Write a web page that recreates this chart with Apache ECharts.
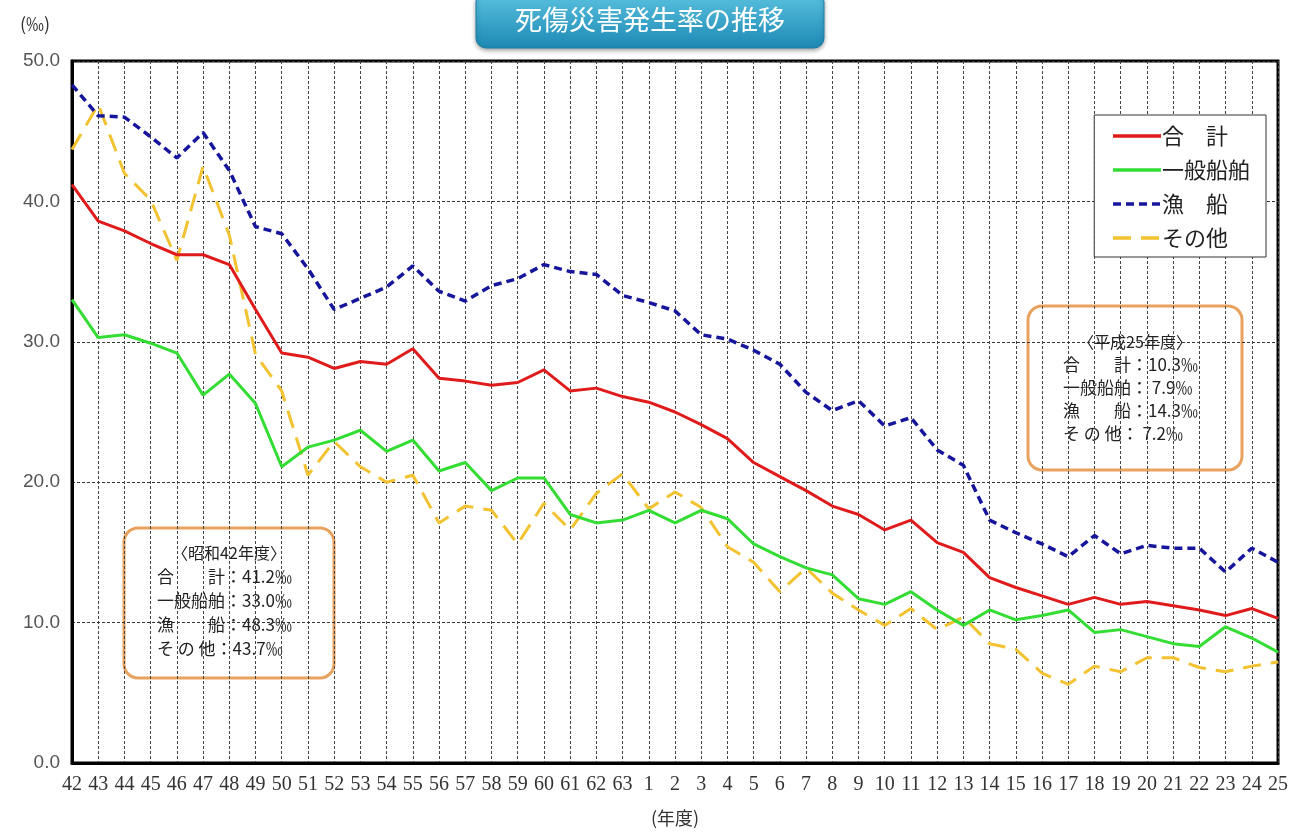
<!DOCTYPE html>
<html>
<head>
<meta charset="utf-8">
<script src="https://cdn.jsdelivr.net/npm/echarts@6/dist/echarts.min.js"></script>
<style>
  html, body { margin: 0; padding: 0; background: #fff; }
  #chart { width: 1291px; height: 832px; }
</style>
</head>
<body>
<div id="chart"></div>
<script>
// 年度 (昭和42〜63, 平成1〜25)
const years = ['42','43','44','45','46','47','48','49','50','51','52','53','54','55','56','57','58','59','60','61','62','63',
  '1','2','3','4','5','6','7','8','9','10','11','12','13','14','15','16','17','18','19','20','21','22','23','24','25']

// 合計
const total = [41.2,38.6,37.9,37.0,36.2,36.2,35.5,32.3,29.2,28.9,28.1,28.6,28.4,29.5,27.4,27.2,26.9,27.1,28.0,26.5,26.7,26.1,
  25.7,25.0,24.1,23.1,21.4,20.4,19.4,18.3,17.7,16.6,17.3,15.7,15.0,13.2,12.5,11.9,11.3,11.8,11.3,11.5,11.2,10.9,10.5,11.0,10.3]
// 一般船舶
const general = [33.0,30.3,30.5,29.9,29.2,26.2,27.7,25.6,21.1,22.5,23.0,23.7,22.2,23.0,20.8,21.4,19.4,20.3,20.3,17.7,17.1,17.3,
  18.0,17.1,18.0,17.4,15.6,14.7,13.9,13.4,11.7,11.3,12.2,10.9,9.8,10.9,10.2,10.5,10.9,9.3,9.5,9.0,8.5,8.3,9.7,8.9,7.9]
// 漁船
const fishing = [48.3,46.1,46.0,44.6,43.1,44.9,42.2,38.2,37.7,35.2,32.3,33.1,33.9,35.4,33.6,32.9,34.0,34.5,35.5,35.0,34.8,33.3,
  32.8,32.2,30.5,30.2,29.4,28.4,26.4,25.1,25.8,24.0,24.6,22.3,21.2,17.3,16.4,15.6,14.7,16.2,14.9,15.5,15.3,15.3,13.6,15.3,14.3]
// その他
const others = [43.7,46.9,42.0,40.1,35.8,42.5,37.6,29.1,26.5,20.5,22.9,21.1,20.0,20.5,17.1,18.3,18.0,15.6,18.5,16.6,19.2,20.6,
  18.1,19.3,18.2,15.4,14.3,12.2,13.9,12.1,10.9,9.8,11.0,9.5,10.4,8.5,8.1,6.4,5.6,6.9,6.5,7.5,7.5,6.8,6.5,6.9,7.2]

const yTicks = [0, 10, 20, 30, 40, 50]

const boxFirst = ['〈昭和42年度〉', '合　　計：41.2‰', '一般船舶：33.0‰', '漁　　船：48.3‰', 'そ の 他：43.7‰']
const boxLast = ['〈平成25年度〉', '合　　計：10.3‰', '一般船舶： 7.9‰', '漁　　船：14.3‰', 'そ の 他： 7.2‰']

const jpFont = '"Noto Sans CJK JP", sans-serif'

// 注記ボックス
function noteBox(x, y, w, h, lines, headY, lh) {
  return {
    type: 'group',
    x: x,
    y: y,
    z: 100,
    children: [
      {
        type: 'rect',
        shape: { x: 0, y: 0, width: w, height: h, r: 14 },
        style: { fill: '#fff', stroke: '#e9a15e', lineWidth: 3 }
      },
      {
        type: 'text',
        x: w / 2,
        y: headY,
        style: { text: lines[0], font: '16px ' + jpFont, fill: '#222', align: 'center', verticalAlign: 'middle' }
      },
      {
        type: 'text',
        x: w / 2 - 72,
        y: headY + lh / 2,
        style: { text: lines.slice(1).join('\n'), font: '17px ' + jpFont, fill: '#222', lineHeight: lh }
      }
    ]
  }
}

const chart = echarts.init(document.getElementById('chart'))
chart.setOption({
  animation: false,
  backgroundColor: '#fff',
  grid: { left: 72, right: 13, top: 61, bottom: 65, show: true, borderColor: '#000', borderWidth: 3 },
  legend: {
    orient: 'vertical',
    right: 25,
    top: 115,
    padding: [10, 16, 8, 17],
    itemWidth: 48,
    itemHeight: 10,
    itemGap: 12,
    borderColor: '#333',
    borderWidth: 1,
    backgroundColor: '#fff',
    itemStyle: { opacity: 0 },
    lineStyle: { width: 3.5 },
    textStyle: { fontFamily: jpFont, fontSize: 22, color: '#222', padding: [0, 0, 0, -4] },
    data: ['合　計', '一般船舶', '漁　船', 'その他']
  },
  xAxis: {
    type: 'category',
    data: years,
    boundaryGap: false,
    axisLine: { lineStyle: { color: '#000', width: 3 } },
    axisTick: { show: false },
    axisLabel: { interval: 0, fontFamily: '"Liberation Serif", serif', fontSize: 20, color: '#333', margin: 12 },
    splitLine: { show: true, interval: 0, lineStyle: { color: '#444', type: [3, 2], width: 1 } },
    name: '(年度)',
    nameLocation: 'middle',
    nameGap: 46,
    nameTextStyle: { fontFamily: jpFont, fontSize: 18, color: '#333' }
  },
  yAxis: {
    type: 'value',
    min: yTicks[0],
    max: yTicks[yTicks.length - 1],
    interval: 10,
    axisLine: { show: true, lineStyle: { color: '#000', width: 3 } },
    axisTick: { show: false },
    axisLabel: { formatter: v => v.toFixed(1), fontFamily: '"Liberation Sans", sans-serif', fontSize: 19, color: '#555', margin: 12 },
    splitLine: { lineStyle: { color: '#333', type: [3, 2], width: 1 } }
  },
  series: [
    { name: '合　計', type: 'line', data: total, symbol: 'none', z: 4,
      lineStyle: { color: '#e01b1b', width: 3 }, itemStyle: { color: '#e01b1b' } },
    { name: '一般船舶', type: 'line', data: general, symbol: 'none', z: 3,
      lineStyle: { color: '#33dd33', width: 3 }, itemStyle: { color: '#33dd33' } },
    { name: '漁　船', type: 'line', data: fishing, symbol: 'none', z: 3,
      lineStyle: { color: '#16169c', width: 3.5, type: [8, 5] }, itemStyle: { color: '#16169c' } },
    { name: 'その他', type: 'line', data: others, symbol: 'none', z: 2,
      lineStyle: { color: '#f2c230', width: 3, type: [18, 10] }, itemStyle: { color: '#f2c230' } }
  ],
  graphic: [
    // タイトル
    {
      type: 'group',
      x: 476,
      y: -8,
      z: 100,
      children: [
        {
          type: 'rect',
          shape: { x: 0, y: 0, width: 348, height: 56, r: 10 },
          style: {
            fill: new echarts.graphic.LinearGradient(0, 0, 0, 1, [
              { offset: 0, color: '#5cc3e0' },
              { offset: 1, color: '#1c88b4' }
            ]),
            stroke: '#1a7ea8',
            lineWidth: 1,
            shadowBlur: 4,
            shadowOffsetY: 2,
            shadowColor: 'rgba(0,0,0,0.35)'
          }
        },
        {
          type: 'text',
          x: 174,
          y: 28,
          style: { text: '死傷災害発生率の推移', font: '27px ' + jpFont, fill: '#fff', align: 'center', verticalAlign: 'middle' }
        }
      ]
    },
    {
      type: 'text',
      left: 20,
      top: 15,
      style: { text: '(‰)', font: '18px ' + jpFont, fill: '#333' }
    },
    noteBox(124, 528, 210, 150, boxFirst, 25, 24),
    noteBox(1028, 306, 214, 164, boxLast, 36, 23)
  ]
})
</script>
</body>
</html>
